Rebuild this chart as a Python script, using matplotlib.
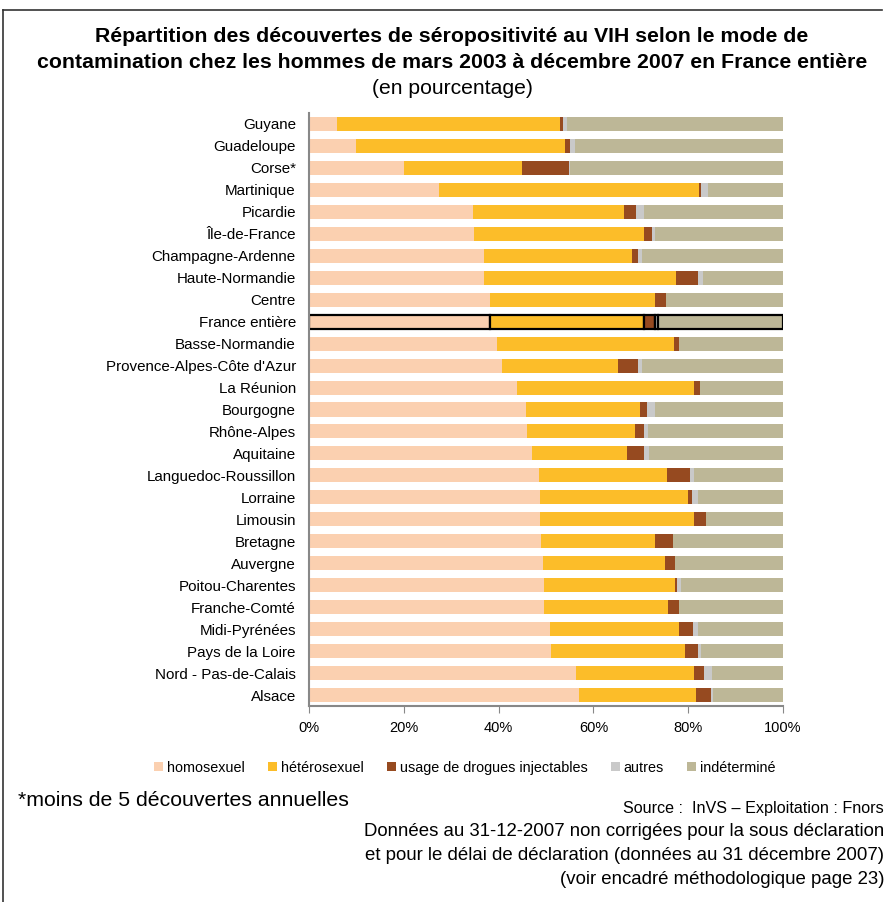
import numpy as np
import matplotlib.pyplot as plt
from matplotlib.lines import Line2D

plt.rcParams['font.family'] = ['Liberation Sans', 'DejaVu Sans']

regions = ['Guyane', 'Guadeloupe', 'Corse*', 'Martinique', 'Picardie',
           'Île-de-France', 'Champagne-Ardenne', 'Haute-Normandie', 'Centre',
           'France entière', 'Basse-Normandie', "Provence-Alpes-Côte d'Azur",
           'La Réunion', 'Bourgogne', 'Rhône-Alpes', 'Aquitaine',
           'Languedoc-Roussillon', 'Lorraine', 'Limousin', 'Bretagne',
           'Auvergne', 'Poitou-Charentes', 'Franche-Comté', 'Midi-Pyrénées',
           'Pays de la Loire', 'Nord - Pas-de-Calais', 'Alsace']

homo = [6.0, 9.9, 20.0, 27.4, 34.6, 34.8, 36.9, 36.9, 38.1,
        38.1, 39.7, 40.7, 43.9, 45.8, 45.9, 47.0, 48.5, 48.8,
        48.8, 48.9, 49.3, 49.5, 49.6, 50.8, 51.0, 56.3, 57.0]
hetero = [46.9, 44.1, 25.0, 54.8, 31.9, 35.8, 31.2, 40.5, 35.0,
          32.6, 37.3, 24.4, 37.4, 24.0, 22.8, 20.1, 27.0, 31.2,
          32.5, 24.0, 25.7, 27.7, 26.2, 27.3, 28.3, 24.9, 24.7]
drogues = [0.7, 1.1, 9.9, 0.5, 2.5, 1.8, 1.3, 4.7, 2.2,
           2.2, 1.1, 4.4, 1.2, 1.5, 2.0, 3.6, 4.9, 0.9,
           2.4, 3.9, 2.2, 0.5, 2.3, 3.0, 2.7, 2.1, 3.1]
autres = [0.8, 1.0, 0.2, 1.5, 1.7, 0.7, 0.8, 1.0, 0.0,
          0.7, 0.0, 0.7, 0.0, 1.7, 0.8, 1.0, 0.8, 1.1,
          0.0, 0.0, 0.0, 0.7, 0.0, 0.9, 0.7, 1.8, 0.4]
indet = list(100 - np.array(homo) - np.array(hetero) - np.array(drogues) - np.array(autres))

series = [homo, hetero, drogues, autres, indet]
labels = ['homosexuel', 'hétérosexuel', 'usage de drogues injectables', 'autres', 'indéterminé']
colors = ['#FBD0B0', '#FCBD29', '#964A20', '#C9C9C9', '#BDB797']

xticks = [0, 20, 40, 60, 80, 100]
xticklabels = ['0%', '20%', '40%', '60%', '80%', '100%']

W, H = 886, 902
fig = plt.figure(figsize=(W / 100, H / 100), dpi=100)
ax = fig.add_axes([309 / W, 1 - 706 / H, (783 - 309) / W, (706 - 113) / H])

y = np.arange(len(regions))
left = np.zeros(len(regions))
for vals, lab, col in zip(series, labels, colors):
    vals = np.array(vals)
    ax.barh(y, vals, left=left, height=0.64, color=col, label=lab)
    # France entière bar is outlined in black
    i = regions.index('France entière')
    ax.barh(y[i], vals[i], left=left[i], height=0.64, color=col,
            edgecolor='black', linewidth=1.6)
    left += vals

ax.set_ylim(len(regions) - 0.5, -0.5)
ax.set_xlim(0, 100)
ax.set_yticks(y)
ax.set_yticklabels(regions, fontsize=10.9)
ax.set_xticks(xticks)
ax.set_xticklabels(xticklabels, fontsize=10.5)
ax.tick_params(axis='y', length=0, pad=9.5)
ax.tick_params(axis='x', length=5, color='#888888', pad=6)
for s in ['top', 'right']:
    ax.spines[s].set_visible(False)
for s in ['left', 'bottom']:
    ax.spines[s].set_color('#888888')
    ax.spines[s].set_linewidth(1.5)

handles, labs = ax.get_legend_handles_labels()
fig.legend(handles[:5], labs[:5], loc='center', bbox_to_anchor=(465 / W, 1 - 768 / H),
           ncol=5, frameon=False, fontsize=10.4, handlelength=0.6, handleheight=0.6,
           handletextpad=0.3, columnspacing=1.6)

xc = 452 / W
fig.text(xc, 1 - 37 / H, 'Répartition des découvertes de séropositivité au VIH selon le mode de',
         ha='center', va='center', fontsize=15.3, fontweight='bold')
fig.text(xc, 1 - 62 / H, 'contamination chez les hommes de mars 2003 à décembre 2007 en France entière',
         ha='center', va='center', fontsize=15.3, fontweight='bold')
fig.text(xc, 1 - 88 / H, '(en pourcentage)', ha='center', va='center', fontsize=15.2)

fig.text(18 / W, 1 - 801 / H, '*moins de 5 découvertes annuelles', ha='left', va='center', fontsize=15.3)
fig.text(884 / W, 1 - 809 / H, 'Source :  InVS – Exploitation : Fnors', ha='right', va='center', fontsize=11.6)
foot = ['Données au 31-12-2007 non corrigées pour la sous déclaration',
        'et pour le délai de déclaration (données au 31 décembre 2007)',
        '(voir encadré méthodologique page 23)']
for k, t in enumerate(foot):
    fig.text(884 / W, 1 - (832 + 23.5 * k) / H, t, ha='right', va='center', fontsize=13.4)

# frame lines of the original page
fig.add_artist(Line2D([3 / W, 3 / W], [0, 1 - 10 / H], color='#333333', lw=1.2))
fig.add_artist(Line2D([3 / W, 882 / W], [1 - 10 / H, 1 - 10 / H], color='#333333', lw=1.2))

fig.savefig('out.png', dpi=100)
